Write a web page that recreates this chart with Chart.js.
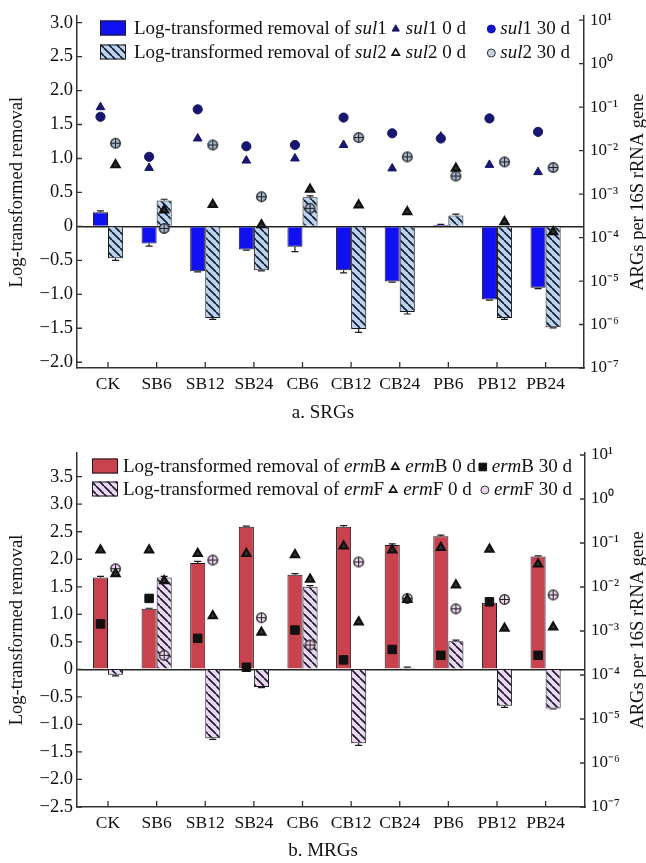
<!DOCTYPE html>
<html>
<head>
<meta charset="utf-8">
<script src="https://cdn.jsdelivr.net/npm/chart.js@4.4.1/dist/chart.umd.min.js"></script>
<style>
  html, body { margin: 0; padding: 0; background: #fff; }
  #page { position: relative; width: 646px; height: 863px; font-family: "Liberation Serif", "Times New Roman", serif; color: #111; }
  canvas { position: absolute; left: 0; }
  #chartA { top: 0; }
  #chartB { top: 430px; }
  .caption { position: absolute; left: 0; width: 646px; text-align: center; font-size: 19px; line-height: 22px; }
  #capA { top: 401px; }
  #capB { top: 839px; }
</style>
</head>
<body>
<div id="page">
  <canvas id="chartA" width="646" height="410"></canvas>
  <canvas id="chartB" width="646" height="410"></canvas>
  <div class="caption" id="capA">a. SRGs</div>
  <div class="caption" id="capB">b. MRGs</div>
</div>
<script>
const categories = ['CK', 'SB6', 'SB12', 'SB24', 'CB6', 'CB12', 'CB24', 'PB6', 'PB12', 'PB24'];

// a. SRGs - left axis, log-transformed removal
const sul1Removal    = [0.21, -0.25, -0.66, -0.34, -0.30, -0.645, -0.81, 0.02, -1.075, -0.905];
const sul1RemovalErr = [0.02, 0.04, 0.01, 0.01, 0.07, 0.04, 0.01, 0.01, 0.01, 0.01];
const sul2Removal    = [-0.47, 0.38, -1.35, -0.645, 0.43, -1.51, -1.26, 0.16, -1.35, -1.485];
const sul2RemovalErr = [0.03, 0.02, 0.02, 0.01, 0.02, 0.05, 0.03, 0.02, 0.02, 0.01];
// right axis, ARGs per 16S rRNA gene
const sul1Day0  = [1.0e-1, 4.0e-3, 1.9e-2, 5.9e-3, 6.6e-3, 1.35e-2, 3.9e-3, 2.1e-2, 4.7e-3, 3.2e-3];
const sul1Day30 = [6.0e-2, 7.2e-3, 8.9e-2, 1.26e-2, 1.35e-2, 5.75e-2, 2.5e-2, 1.9e-2, 5.5e-2, 2.7e-2];
const sul2Day0  = [4.7e-3, 4.3e-4, 5.75e-4, 1.95e-4, 1.29e-3, 5.6e-4, 3.9e-4, 3.9e-3, 2.3e-4, 1.35e-4];
const sul2Day30 = [1.48e-2, 1.62e-4, 1.35e-2, 8.7e-4, 4.7e-4, 2.0e-2, 7.2e-3, 2.6e-3, 5.5e-3, 4.1e-3];

// b. MRGs
const ermBRemoval    = [1.67, 1.10, 1.93, 2.59, 1.72, 2.59, 2.26, 2.42, 1.21, 2.05];
const ermBRemovalErr = [0.02, 0.01, 0.03, 0.01, 0.02, 0.02, 0.02, 0.02, 0.03, 0.01];
const ermFRemoval    = [-0.10, 1.67, -1.25, -0.32, 1.50, -1.34, 0.03, 0.51, -0.66, -0.71];
const ermFRemovalErr = [0.02, 0.02, 0.02, 0.01, 0.02, 0.04, 0.01, 0.02, 0.03, 0.01];
const ermBDay0  = [6.9e-2, 6.9e-2, 5.75e-2, 5.75e-2, 5.4e-2, 8.5e-2, 6.9e-2, 7.9e-2, 7.2e-2, 3.3e-2];
const ermBDay30 = [1.45e-3, 5.5e-3, 6.8e-4, 1.5e-4, 1.05e-3, 2.2e-4, 3.8e-4, 2.8e-4, 4.6e-3, 2.8e-4];
const ermFDay0  = [2.0e-2, 1.38e-2, 2.2e-3, 9.3e-4, 1.5e-2, 1.6e-3, 5.2e-3, 1.1e-2, 1.15e-3, 1.23e-3];
const ermFDay30 = [2.6e-2, 2.8e-4, 4.1e-2, 2.0e-3, 4.8e-4, 3.7e-2, 5.5e-3, 3.2e-3, 5.2e-3, 6.6e-3];

// tick labels
const removalTicksA  = [-2, -1.5, -1, -0.5, 0, 0.5, 1, 1.5, 2, 2.5, 3];
const removalTicksB  = [-2.5, -2, -1.5, -1, -0.5, 0, 0.5, 1, 1.5, 2, 2.5, 3, 3.5];
const abundanceTicks = [1e-7, 1e-6, 1e-5, 1e-4, 1e-3, 1e-2, 1e-1, 1e0, 1e1];

const FONT = '"Liberation Serif", "Times New Roman", serif';
Chart.defaults.font.family = FONT;
Chart.defaults.color = '#111';

const NAVY = '#17176f';
const INK = '#1a1a1a';
const barGroup = 0.62; // share of a category taken by the two bars

const sup = s => String(s).replace(/[-0-9]/g, ch => '⁻⁰¹²³⁴⁵⁶⁷⁸⁹'['-0123456789'.indexOf(ch)]);

function hatch(ctx, bg) {
  const s = 8, c = document.createElement('canvas');
  c.width = c.height = s;
  const g = c.getContext('2d');
  g.fillStyle = bg;
  g.fillRect(0, 0, s, s);
  g.strokeStyle = '#18202e';
  g.lineWidth = 1.7;
  g.beginPath();
  for (const d of [-s, 0, s]) { g.moveTo(d, 0); g.lineTo(d + s, s); }
  g.stroke();
  return ctx.createPattern(c, 'repeat');
}

// circle with cross, the look of the 30 d markers with their error bars
function crossedCircle(fill) {
  const c = document.createElement('canvas');
  c.width = c.height = 13;
  const g = c.getContext('2d');
  g.beginPath();
  g.arc(6.5, 6.5, 4.8, 0, Math.PI * 2);
  g.fillStyle = fill;
  g.fill();
  g.lineWidth = 1.3;
  g.strokeStyle = '#222';
  g.stroke();
  g.beginPath();
  g.moveTo(2, 6.5); g.lineTo(11, 6.5);
  g.moveTo(6.5, 2); g.lineTo(6.5, 11);
  g.lineWidth = 1;
  g.stroke();
  return c;
}

function drawMark(ctx, m, x, y) {
  ctx.beginPath();
  if (m.shape === 'triangle') {
    const r = 4.2;
    ctx.moveTo(x, y - r);
    ctx.lineTo(x + r * 0.866, y + r / 2);
    ctx.lineTo(x - r * 0.866, y + r / 2);
    ctx.closePath();
  } else if (m.shape === 'rect') {
    ctx.rect(x - 3.8, y - 3.8, 7.6, 7.6);
  } else {
    ctx.arc(x, y, 4, 0, Math.PI * 2);
  }
  ctx.fillStyle = m.fill;
  ctx.fill();
  ctx.lineWidth = m.lw || 1;
  ctx.strokeStyle = m.stroke;
  ctx.stroke();
}

function drawParts(ctx, parts, x, y) {
  parts.forEach(([t, it]) => {
    ctx.font = (it ? 'italic ' : '') + '19px ' + FONT;
    ctx.fillText(t, x, y);
    x += ctx.measureText(t).width;
  });
  return x;
}
function partsWidth(ctx, parts) {
  let w = 0;
  parts.forEach(([t, it]) => {
    ctx.font = (it ? 'italic ' : '') + '19px ' + FONT;
    w += ctx.measureText(t).width;
  });
  return w;
}

const framePlugin = {
  id: 'frame',
  afterDatasetDraw(chart, args) {
    const ds = chart.data.datasets[args.index];
    if (!ds.err) return;
    const ctx = chart.ctx, ys = chart.scales.y;
    ctx.save();
    ctx.strokeStyle = INK;
    ctx.lineWidth = 1.2;
    args.meta.data.forEach((bar, i) => {
      const v = ds.data[i].y, e = ds.err[i];
      const tip = ys.getPixelForValue(v + (v >= 0 ? e : -e));
      ctx.beginPath();
      ctx.moveTo(bar.x, bar.y); ctx.lineTo(bar.x, tip);
      ctx.moveTo(bar.x - 3.5, tip); ctx.lineTo(bar.x + 3.5, tip);
      ctx.stroke();
    });
    ctx.restore();
  },
  afterDraw(chart, args, opts) {
    const ctx = chart.ctx;
    const {left, right, top, bottom} = chart.chartArea;
    const {x, y, y2} = chart.scales;
    ctx.save();
    // tick marks pointing into the plot
    ctx.strokeStyle = '#333';
    ctx.lineWidth = 1.3;
    ctx.beginPath();
    y.ticks.forEach(t => { const p = y.getPixelForValue(t.value); ctx.moveTo(left, p); ctx.lineTo(left + 5, p); });
    y2.ticks.forEach(t => { const p = y2.getPixelForValue(t.value); ctx.moveTo(right, p); ctx.lineTo(right - 5, p); });
    x.ticks.forEach(t => { const p = x.getPixelForValue(t.value); ctx.moveTo(p, bottom); ctx.lineTo(p, bottom - 6); });
    ctx.stroke();

    // right axis title, reading bottom to top
    ctx.fillStyle = '#111';
    ctx.font = '18.5px ' + FONT;
    ctx.textAlign = 'center';
    ctx.textBaseline = 'middle';
    ctx.translate(opts.rightTitleX, (top + bottom) / 2);
    ctx.rotate(-Math.PI / 2);
    ctx.fillText('ARGs per 16S rRNA gene', 0, 0);
    ctx.setTransform(1, 0, 0, 1, 0, 0);

    // legend
    const lg = opts.legend;
    ctx.textAlign = 'left';
    lg.rows.forEach(row => {
      ctx.fillStyle = row.swatch;
      ctx.fillRect(lg.x, row.y - 7.5, 26, 15);
      ctx.lineWidth = 1;
      ctx.strokeStyle = INK;
      ctx.strokeRect(lg.x + 0.5, row.y - 7, 25, 14);
      ctx.fillStyle = '#111';
      let cx = drawParts(ctx, row.text, lg.x + 26 + lg.gap, row.y + 1);
      cx += 9;
      drawMark(ctx, row.marks[0], cx, row.y + 1);
      ctx.fillStyle = '#111';
      drawParts(ctx, row.marks[0].text, cx + 10, row.y + 1);
      const w3 = partsWidth(ctx, row.marks[1].text);
      const t3 = lg.right - w3;
      drawMark(ctx, row.marks[1], t3 - 9, row.y + 1);
      ctx.fillStyle = '#111';
      drawParts(ctx, row.marks[1].text, t3, row.y + 1);
    });
    ctx.restore();
  }
};

function geneParts(stem, tag, rest) { return [[stem, true], [tag + (rest || ''), false]]; }

function buildChart(id, spec) {
  const canvas = document.getElementById(id);
  const ctx = canvas.getContext('2d');
  const datasets = [];
  spec.bars.forEach(b => datasets.push({
    type: 'bar',
    label: b.label,
    data: b.values.map((v, i) => ({x: i, y: v})),
    err: b.err,
    backgroundColor: b.fill,
    borderColor: INK,
    borderWidth: 1,
    categoryPercentage: barGroup,
    barPercentage: 1,
    yAxisID: 'y',
    order: 2
  }));
  spec.marks.forEach(m => datasets.push({
    type: 'line',
    showLine: false,
    label: m.label,
    data: m.values.map((v, i) => ({x: i + (m.col ? 1 : -1) * barGroup / 4, y: v})),
    pointStyle: m.pointStyle,
    pointRadius: m.radius,
    pointBackgroundColor: m.fill,
    pointBorderColor: m.stroke,
    pointBorderWidth: m.lw,
    yAxisID: 'y2',
    order: 1
  }));

  return new Chart(ctx, {
    type: 'bar',
    data: {datasets},
    plugins: [framePlugin],
    options: {
      responsive: false,
      devicePixelRatio: 1,
      animation: false,
      events: [],
      layout: {padding: {top: spec.padTop, left: 0, right: 0, bottom: 0}},
      plugins: {
        legend: {display: false},
        tooltip: {enabled: false},
        frame: {rightTitleX: 638, legend: spec.legend}
      },
      scales: {
        x: {
          type: 'linear',
          offset: false,
          min: -0.638,
          max: spec.xMax,
          afterBuildTicks: s => { s.ticks = categories.map((c, i) => ({value: i})); },
          afterFit: s => { s.height = spec.xHeight; },
          ticks: {autoSkip: false, maxRotation: 0, padding: 6, font: {size: 17.5},
                  callback: v => categories[v]},
          grid: {drawOnChartArea: false, drawTicks: false},
          border: {color: '#333', width: 1.5}
        },
        y: {
          position: 'left',
          min: spec.yMin,
          max: spec.yMax,
          afterBuildTicks: s => { s.ticks = spec.yTicks.map(v => ({value: v})); },
          afterFit: s => { s.width = 77; },
          ticks: {padding: 4, font: {size: 18.5},
                  callback: v => v === 0 ? '0' : v.toFixed(1).replace('-', '\u2212')},
          grid: {drawTicks: false, lineWidth: 1.5,
                 color: c => (c.tick && c.tick.value === 0) ? '#222' : 'rgba(0,0,0,0)'},
          border: {color: '#333', width: 1.5},
          title: {display: true, text: 'Log-transformed removal', font: {size: 18.5, lineHeight: 1},
                  padding: {top: 8, bottom: 0}}
        },
        y2: {
          type: 'logarithmic',
          position: 'right',
          min: 1e-7,
          max: spec.y2Max,
          afterBuildTicks: s => { s.ticks = abundanceTicks.map(v => ({value: v})); },
          afterFit: s => { s.width = spec.y2Width; },
          ticks: {padding: 6, font: {size: 17},
                  callback: v => '10' + sup(Math.round(Math.log10(v)))},
          grid: {drawOnChartArea: false, drawTicks: false},
          border: {color: '#333', width: 1.5}
        }
      }
    }
  });
}

const ctxA = document.getElementById('chartA').getContext('2d');
const ctxB = document.getElementById('chartB').getContext('2d');

const sul1Fill = '#1010f0';
const sul2Fill = hatch(ctxA, '#b9d3f0');
const ermBFill = '#c9434f';
const ermFFill = hatch(ctxB, '#efd6f3');
const sul2Open = crossedCircle('#a3b4cf');
const ermFOpen = crossedCircle('#ecd4ef');

buildChart('chartA', {
  padTop: 15, xHeight: 42, xMax: 9.79, yMin: -2.085, yMax: 3.095, yTicks: removalTicksA,
  y2Max: Math.pow(10, 1.092), y2Width: 62,
  bars: [
    {label: 'Log-transformed removal of sul1', values: sul1Removal, err: sul1RemovalErr, fill: sul1Fill},
    {label: 'Log-transformed removal of sul2', values: sul2Removal, err: sul2RemovalErr, fill: sul2Fill}
  ],
  marks: [
    {label: 'sul1 0 d', values: sul1Day0, col: 0, pointStyle: 'triangle', radius: 5, fill: NAVY, stroke: NAVY, lw: 1},
    {label: 'sul1 30 d', values: sul1Day30, col: 0, pointStyle: 'circle', radius: 4.6, fill: NAVY, stroke: NAVY, lw: 1},
    {label: 'sul2 0 d', values: sul2Day0, col: 1, pointStyle: 'triangle', radius: 4.6, fill: '#333', stroke: '#111', lw: 2.2},
    {label: 'sul2 30 d', values: sul2Day30, col: 1, pointStyle: sul2Open, radius: 5, fill: '#a3b4cf', stroke: '#222', lw: 1}
  ],
  legend: {
    x: 100, gap: 8, right: 570,
    rows: [
      {y: 28, swatch: sul1Fill, text: [['Log-transformed removal of ', false]].concat(geneParts('sul', '1')),
       marks: [{shape: 'triangle', fill: NAVY, stroke: NAVY, text: geneParts('sul', '1', ' 0 d')},
               {shape: 'circle', fill: '#0d14c8', stroke: '#0d14c8', text: geneParts('sul', '1', ' 30 d')}]},
      {y: 52, swatch: sul2Fill, text: [['Log-transformed removal of ', false]].concat(geneParts('sul', '2')),
       marks: [{shape: 'triangle', fill: '#fff', stroke: '#111', lw: 1.6, text: geneParts('sul', '2', ' 0 d')},
               {shape: 'circle', fill: '#c5d2e4', stroke: '#333', text: geneParts('sul', '2', ' 30 d')}]}
    ]
  }
});

buildChart('chartB', {
  padTop: 23, xHeight: 33, xMax: 9.81, yMin: -2.5, yMax: 3.93, yTicks: removalTicksB,
  y2Max: Math.pow(10, 1.045), y2Width: 61,
  bars: [
    {label: 'Log-transformed removal of ermB', values: ermBRemoval, err: ermBRemovalErr, fill: ermBFill},
    {label: 'Log-transformed removal of ermF', values: ermFRemoval, err: ermFRemovalErr, fill: ermFFill}
  ],
  marks: [
    {label: 'ermB 0 d', values: ermBDay0, col: 0, pointStyle: 'triangle', radius: 4.6, fill: '#333', stroke: '#111', lw: 2.2},
    {label: 'ermB 30 d', values: ermBDay30, col: 0, pointStyle: 'rect', radius: 6, fill: '#111', stroke: '#111', lw: 1},
    {label: 'ermF 0 d', values: ermFDay0, col: 1, pointStyle: 'triangle', radius: 4.6, fill: '#333', stroke: '#111', lw: 2.2},
    {label: 'ermF 30 d', values: ermFDay30, col: 1, pointStyle: ermFOpen, radius: 5, fill: '#ecd4ef', stroke: '#222', lw: 1}
  ],
  legend: {
    x: 92, gap: 5, right: 572,
    rows: [
      {y: 36, swatch: ermBFill, text: [['Log-transformed removal of ', false]].concat(geneParts('erm', 'B')),
       marks: [{shape: 'triangle', fill: '#fff', stroke: '#111', lw: 1.6, text: geneParts('erm', 'B', ' 0 d')},
               {shape: 'rect', fill: '#111', stroke: '#111', text: geneParts('erm', 'B', ' 30 d')}]},
      {y: 59, swatch: ermFFill, text: [['Log-transformed removal of ', false]].concat(geneParts('erm', 'F')),
       marks: [{shape: 'triangle', fill: '#fff', stroke: '#111', lw: 1.6, text: geneParts('erm', 'F', ' 0 d')},
               {shape: 'circle', fill: '#ecd4ef', stroke: '#333', text: geneParts('erm', 'F', ' 30 d')}]}
    ]
  }
});
</script>
</body>
</html>
